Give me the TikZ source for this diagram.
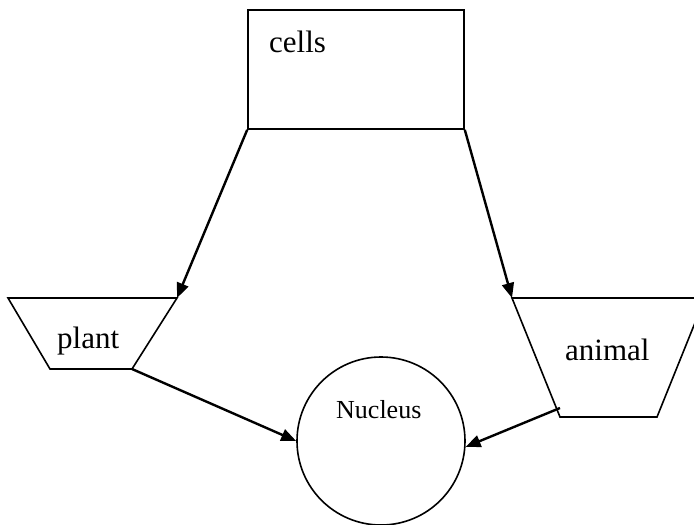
\documentclass[tikz,border=0pt]{standalone}
\usepackage{fontspec}
\setmainfont{Liberation Serif}
\usetikzlibrary{arrows.meta}
\begin{document}
\begin{tikzpicture}[x=1pt,y=-1pt,
  outline/.style={draw,line width=1.6pt,line join=miter},
  conn/.style={line width=2.4pt,-{Triangle[length=15pt,width=12pt]}},
  lbl/.style={inner sep=0pt,anchor=base west,font=\fontsize{31}{31}\selectfont},
  small/.style={inner sep=0pt,anchor=base west,font=\fontsize{26}{26}\selectfont}]
\clip (0,0) rectangle (694,525);
% cells box
\node[outline,minimum width=216pt,minimum height=119pt,inner sep=0pt] (cells) at (356,69.5) {};
\node[lbl] (cellsT) at (269,52) {cells};
% plant trapezoid
\coordinate (pTL) at (8,298);
\coordinate (pTR) at (177,298);
\coordinate (pBR) at (132,369);
\coordinate (pBL) at (50,369);
\draw[outline] (pTL) -- (pTR) -- (pBR) -- (pBL) -- cycle;
\node[lbl] (plantT) at (57,348) {plant};
% animal trapezoid
\coordinate (aTL) at (512,298);
\coordinate (aTR) at (705,298);
\coordinate (aBR) at (657,417);
\coordinate (aBL) at (560,417);
\draw[outline] (aTL) -- (aTR) -- (aBR) -- (aBL) -- cycle;
\node[lbl] (animalT) at (565,360) {animal};
\coordinate (aStart) at (560,408);
% nucleus
\node[outline,circle,minimum size=168pt,inner sep=0pt] (nuc) at (381,441) {};
\node[small] (nucT) at (336,418) {Nucleus};
% connectors
\draw[conn] (cells.south west) -- (pTR);
\draw[conn] (cells.south east) -- (aTL);
\draw[conn] (pBR) -- (nuc.180);
\draw[conn] (aStart) -- (nuc.-4);
\end{tikzpicture}
\end{document}
